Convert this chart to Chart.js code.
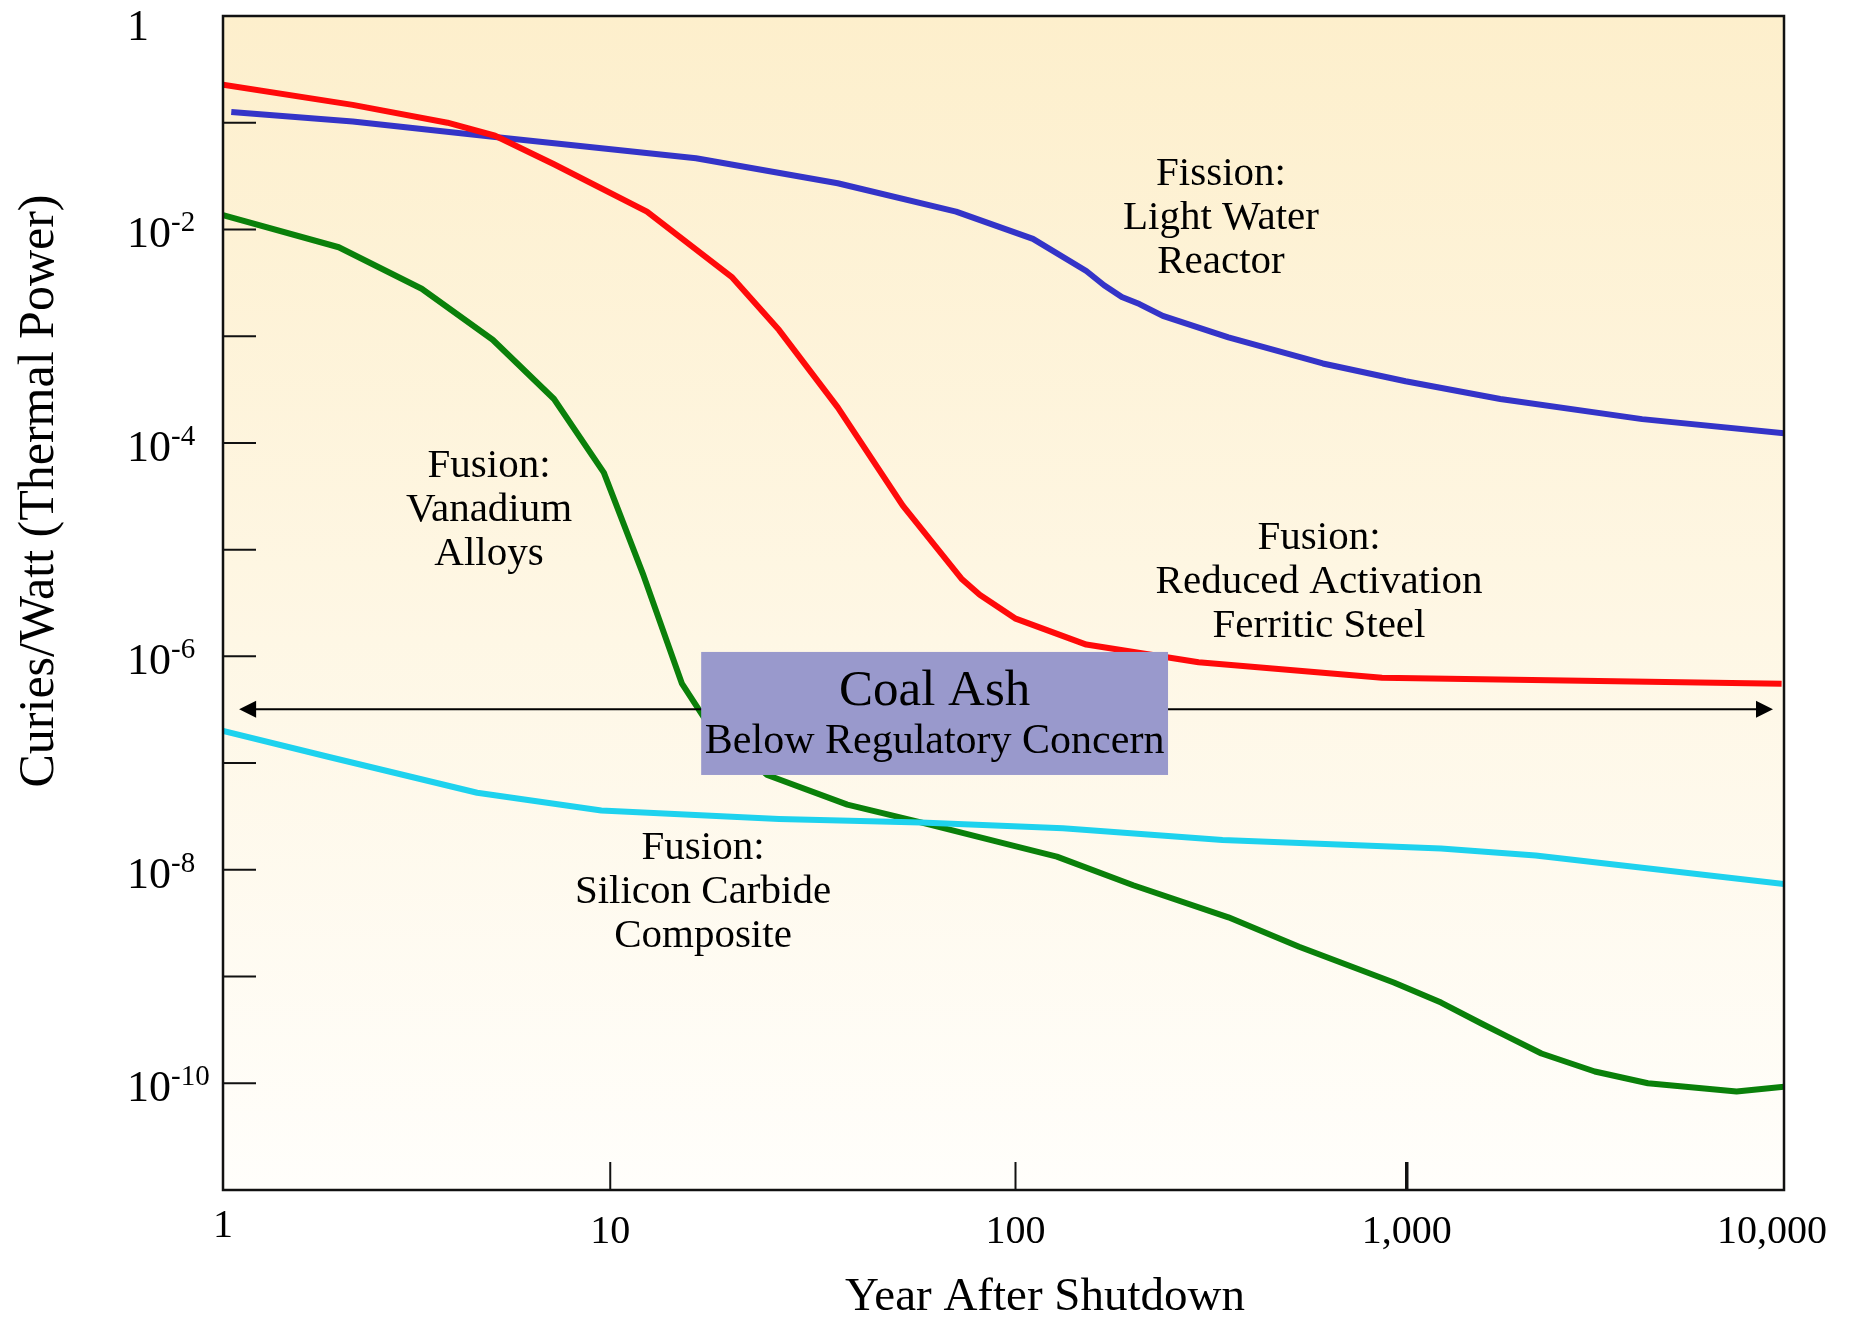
<!DOCTYPE html>
<html>
<head>
<meta charset="utf-8">
<script src="https://cdn.jsdelivr.net/npm/chart.js@4.4.1/dist/chart.umd.min.js"></script>
<style>
  html, body { margin: 0; padding: 0; background: #fff; }
  #wrap { width: 1851px; height: 1317px; position: relative; }
</style>
</head>
<body>
<div id="wrap"><canvas id="myChart" width="1851" height="1317"></canvas></div>
<script>
// values (years after shutdown, curies per watt)
const lwrYears = [1.05, 2.15, 4.98, 16.3, 37.6, 75.6, 119, 163, 181, 201, 223, 256, 377, 658, 1072, 1875, 4330, 10000];
const lwrValues = [0.126, 0.1026, 0.0735, 0.0464, 0.0271, 0.0147, 8.15e-3, 4.08e-3, 3.0e-3, 2.33e-3, 2.0e-3, 1.55e-3, 9.75e-4, 5.55e-4, 3.78e-4, 2.58e-4, 1.67e-4, 1.23e-4];

const rafsYears = [1, 2.15, 3.76, 4.98, 7.05, 12.2, 20.1, 26.6, 37.6, 55.2, 78.3, 86.9, 107, 163, 316, 933, 9860];
const rafsValues = [0.227, 0.147, 0.1, 0.0755, 0.0408, 0.0147, 3.6e-3, 1.14e-3, 2.15e-4, 2.58e-5, 5.27e-6, 3.78e-6, 2.27e-6, 1.29e-6, 8.8e-7, 6.3e-7, 5.55e-7];

const vanYears = [1, 1.98, 3.23, 4.91, 7.05, 9.46, 11.9, 15.0, 17.5, 24.8, 39.8, 61.4, 107, 137, 215, 377, 572, 1000, 1322, 1687, 1940, 2390, 3275, 4480, 7560, 10000];
const vanValues = [0.0136, 6.81e-3, 2.78e-3, 9.26e-4, 2.58e-4, 5.27e-5, 6.0e-6, 5.55e-7, 2.33e-7, 7.74e-8, 4.08e-8, 2.78e-8, 1.67e-8, 1.33e-8, 7.17e-9, 3.59e-9, 1.9e-9, 8.8e-10, 5.7e-10, 3.59e-10, 2.78e-10, 1.9e-10, 1.29e-10, 1.0e-10, 8.36e-11, 9.26e-11];

const sicYears = [1, 1.87, 4.48, 9.32, 26.6, 61.4, 142, 364, 1322, 2310, 10000];
const sicValues = [2.0e-7, 1.14e-7, 5.27e-8, 3.59e-8, 3.0e-8, 2.78e-8, 2.45e-8, 1.9e-8, 1.58e-8, 1.36e-8, 7.36e-9];

const xTickValues = [1, 10, 100, 1000, 10000];
const xTickLabels = ["1", "10", "100", "1,000", "10,000"];
const yTickExponents = [0, -1, -2, -3, -4, -5, -6, -7, -8, -9, -10];
const yLabelExponents = [0, -2, -4, -6, -8, -10];

// coal ash band: arrow level and box extent in data units
const coalAshLevel = 3.2e-7;
const coalAshArrow = [1.1, 9370];
const coalAshBox = { x: [16.8, 264], y: [1.1e-6, 7.74e-8] };

const SERIF = '"Liberation Serif", "Times New Roman", serif';

// the printed axis is a little uneven, so ticks sit a few px off
const xTickNudge = [0, -3, 12, 13, -12];

const toPoints = (xs, ys) => xs.map((x, i) => ({ x: x, y: ys[i] }));

const notes = [
  { lines: ["Fission:", "Light Water", "Reactor"], x: 1221, y: 185 },
  { lines: ["Fusion:", "Reduced Activation", "Ferritic Steel"], x: 1319, y: 549 },
  { lines: ["Fusion:", "Vanadium", "Alloys"], x: 489, y: 477 },
  { lines: ["Fusion:", "Silicon Carbide", "Composite"], x: 703, y: 859 },
];

const frame = {
  id: "frame",
  beforeDatasetsDraw(chart) {
    const { ctx, chartArea: a } = chart;
    const g = ctx.createLinearGradient(0, a.top, 0, a.bottom);
    g.addColorStop(0, "#fdefcc");
    g.addColorStop(1, "#fffefb");
    ctx.save();
    ctx.fillStyle = g;
    ctx.fillRect(a.left, a.top, a.right - a.left, a.bottom - a.top);
    ctx.restore();
  },
  afterDatasetsDraw(chart) {
    const { ctx, chartArea: a } = chart;
    const xs = chart.scales.x;
    const ys = chart.scales.y;
    ctx.save();

    // arrow across the plot
    const ay = ys.getPixelForValue(coalAshLevel);
    const ax0 = xs.getPixelForValue(coalAshArrow[0]);
    const ax1 = xs.getPixelForValue(coalAshArrow[1]);
    ctx.strokeStyle = "#000";
    ctx.fillStyle = "#000";
    ctx.lineWidth = 2;
    ctx.beginPath();
    ctx.moveTo(ax0 + 10, ay);
    ctx.lineTo(ax1 - 10, ay);
    ctx.stroke();
    ctx.beginPath();
    ctx.moveTo(ax1, ay);
    ctx.lineTo(ax1 - 17, ay - 8.5);
    ctx.lineTo(ax1 - 17, ay + 8.5);
    ctx.closePath();
    ctx.fill();
    ctx.beginPath();
    ctx.moveTo(ax0, ay);
    ctx.lineTo(ax0 + 17, ay - 8.5);
    ctx.lineTo(ax0 + 17, ay + 8.5);
    ctx.closePath();
    ctx.fill();

    // coal ash box
    const bx0 = xs.getPixelForValue(coalAshBox.x[0]);
    const bx1 = xs.getPixelForValue(coalAshBox.x[1]);
    const by0 = ys.getPixelForValue(coalAshBox.y[0]);
    const by1 = ys.getPixelForValue(coalAshBox.y[1]);
    ctx.fillStyle = "#9999cc";
    ctx.fillRect(bx0, by0, bx1 - bx0, by1 - by0);
    ctx.fillStyle = "#000";
    ctx.textAlign = "center";
    ctx.textBaseline = "alphabetic";
    const bcx = (bx0 + bx1) / 2;
    ctx.font = "51px " + SERIF;
    ctx.fillText("Coal Ash", bcx, by0 + 53);
    ctx.font = "42px " + SERIF;
    ctx.fillText("Below Regulatory Concern", bcx, by0 + 101);

    // curve labels
    ctx.font = "41px " + SERIF;
    notes.forEach((n) => {
      n.lines.forEach((t, i) => ctx.fillText(t, n.x, n.y + i * 44));
    });

    // frame
    ctx.lineWidth = 2.5;
    ctx.strokeStyle = "#111";
    ctx.strokeRect(a.left, a.top, a.right - a.left, a.bottom - a.top);

    // inner ticks
    ctx.lineWidth = 2;
    yTickExponents.forEach((e) => {
      const y = ys.getPixelForValue(Math.pow(10, e));
      ctx.beginPath();
      ctx.moveTo(a.left, y);
      ctx.lineTo(a.left + 33, y);
      ctx.stroke();
    });
    xTickValues.forEach((v, i) => {
      if (i === 0 || i === xTickValues.length - 1) return;
      const x = xs.getPixelForValue(v) + xTickNudge[i];
      ctx.lineWidth = i === 3 ? 3.5 : 2;
      ctx.beginPath();
      ctx.moveTo(x, a.bottom);
      ctx.lineTo(x, a.bottom - 28);
      ctx.stroke();
    });

    // x tick labels
    ctx.font = "40px " + SERIF;
    ctx.textAlign = "center";
    xTickValues.forEach((v, i) => {
      const x = xs.getPixelForValue(v) + xTickNudge[i];
      ctx.fillText(xTickLabels[i], x, a.bottom + (i === 0 ? 47 : 53));
    });

    // y tick labels with superscript exponent
    ctx.textAlign = "left";
    yLabelExponents.forEach((e) => {
      const y = ys.getPixelForValue(Math.pow(10, e));
      const left = 127;
      ctx.font = "44px " + SERIF;
      if (e === 0) {
        ctx.fillText("1", left, y + 24);
        return;
      }
      ctx.fillText("10", left, y + 18);
      const w = ctx.measureText("10").width;
      ctx.font = "29px " + SERIF;
      ctx.fillText(String(e), left + w, y + 2);
    });

    // axis titles
    ctx.textAlign = "center";
    ctx.font = "47px " + SERIF;
    ctx.fillText("Year After Shutdown", 1045, 1310);
    ctx.save();
    ctx.translate(53, 491);
    ctx.rotate(-Math.PI / 2);
    ctx.font = "50px " + SERIF;
    ctx.fillText("Curies/Watt (Thermal Power)", 0, 0);
    ctx.restore();

    ctx.restore();
  },
};

const lineSet = (label, xs, ys, color) => ({
  label: label,
  data: toPoints(xs, ys),
  borderColor: color,
  borderWidth: 6,
  pointRadius: 0,
  tension: 0,
  fill: false,
  borderJoinStyle: "round",
});

const config = {
  type: "line",
  data: {
    datasets: [
      lineSet("Fusion: Silicon Carbide Composite", sicYears, sicValues, "#1ed2ee"),
      lineSet("Fusion: Vanadium Alloys", vanYears, vanValues, "#0a800a"),
      lineSet("Fusion: Reduced Activation Ferritic Steel", rafsYears, rafsValues, "#ff0a0a"),
      lineSet("Fission: Light Water Reactor", lwrYears, lwrValues, "#3434c8"),
    ],
  },
  options: {
    responsive: false,
    animation: false,
    devicePixelRatio: 1,
    layout: { padding: { left: 223, top: 16, right: 67, bottom: 127 } },
    scales: {
      x: { type: "logarithmic", min: 1, max: 10000, display: false },
      y: { type: "logarithmic", min: 1e-11, max: 1, display: false },
    },
    plugins: {
      legend: { display: false },
      tooltip: { enabled: false },
    },
  },
  plugins: [frame],
};

window.addEventListener("DOMContentLoaded", () => {
  const ctx = document.getElementById("myChart");
  new Chart(ctx, config);
});
</script>
</body>
</html>
